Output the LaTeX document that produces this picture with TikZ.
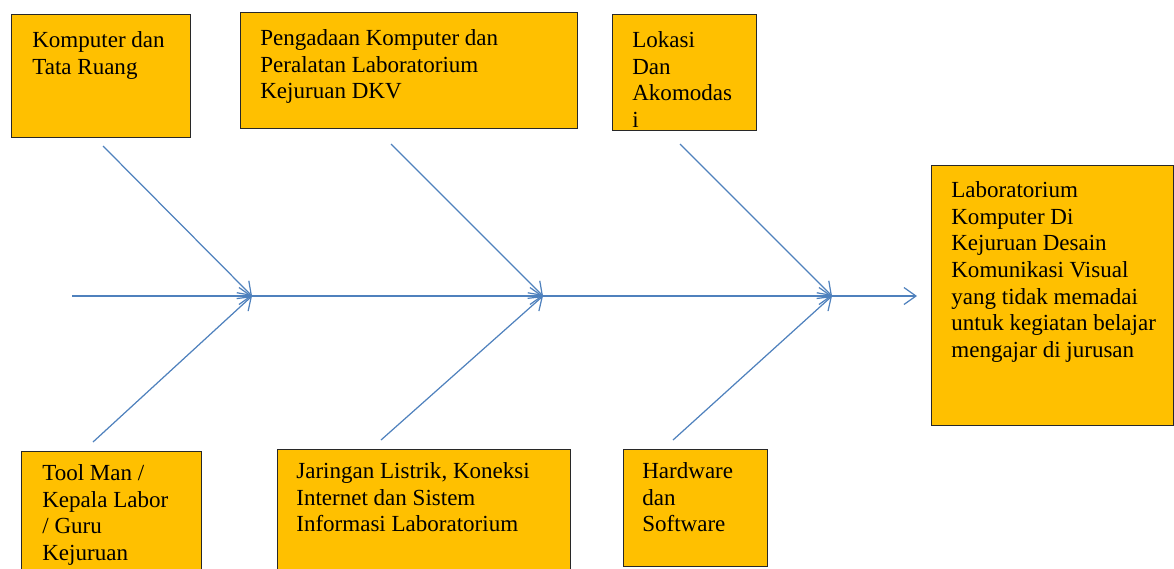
\documentclass[tikz,border=0pt]{standalone}
\usepackage{fontspec}
\setmainfont{Liberation Serif}[Ligatures=TeX]
\newfontfamily\boxfont{Liberation Serif}
\usetikzlibrary{arrows.meta}
\definecolor{amber}{RGB}{255, 192, 0}
\definecolor{boneblue}{RGB}{79, 129, 189}
\definecolor{darkframe}{RGB}{40, 40, 40}

\begin{document}
\begin{tikzpicture}[
        x=1cm, y=1cm,
        box/.style={draw=darkframe, line width=0.8pt, fill=amber,
            anchor=north west, inner sep=0pt},
        boxtext/.style={anchor=north west, inner sep=0pt, align=left,
            font=\boxfont\fontsize{13.1}{15.2}\selectfont},
        bone/.style={draw=boneblue, line width=0.7pt,
            -{Straight Barb[length=2.4mm,width=3.4mm]}}
    ]
    \clip (0,0) rectangle (23.48,-11.36);

        % boxes of the causes
        \node[box, minimum width=3.58cm, minimum height=2.46cm] (komputer) at (0.22,-0.28) {};
        \node[box, minimum width=6.74cm, minimum height=2.32cm] (pengadaan) at (4.80,-0.24) {};
        \node[box, minimum width=2.88cm, minimum height=2.32cm] (lokasi) at (12.24,-0.28) {};
        \node[box, minimum width=3.60cm, minimum height=2.80cm] (toolman) at (0.42,-9.02) {};
        \node[box, minimum width=5.86cm, minimum height=2.80cm] (jaringan) at (5.54,-8.98) {};
        \node[box, minimum width=2.88cm, minimum height=2.34cm] (hardware) at (12.46,-8.98) {};
        \node[box, minimum width=4.84cm, minimum height=5.20cm] (masalah) at (18.62,-3.30) {};

        \node[boxtext] (komputer text) at (0.64,-0.62) {Komputer dan\\Tata Ruang};
        \node[boxtext] (pengadaan text) at (5.20,-0.58) {Pengadaan Komputer dan\\Peralatan Laboratorium\\Kejuruan DKV};
        \node[boxtext] (lokasi text) at (12.64,-0.62) {Lokasi\\Dan\\Akomodas\\i};
        \node[boxtext] (toolman text) at (0.84,-9.28) {Tool Man /\\Kepala Labor\\/ Guru\\Kejuruan};
        \node[boxtext] (jaringan text) at (5.92,-9.24) {Jaringan Listrik, Koneksi\\Internet dan Sistem\\Informasi Laboratorium};
        \node[boxtext] (hardware text) at (12.84,-9.24) {Hardware\\dan\\Software};
        \node[boxtext] (masalah text) at (19.02,-3.62) {Laboratorium\\Komputer Di\\Kejuruan Desain\\Komunikasi Visual\\yang tidak memadai\\untuk kegiatan belajar\\mengajar di jurusan};

        % spine and bones
        \coordinate (tail) at (1.44,-5.92);
        \coordinate (head) at (18.34,-5.92);
        \coordinate (j1) at (5.04,-5.92);
        \coordinate (j2) at (10.86,-5.92);
        \coordinate (j3) at (16.64,-5.92);
        \coordinate (u1) at (2.06,-2.92);
        \coordinate (u2) at (7.82,-2.88);
        \coordinate (u3) at (13.60,-2.88);
        \coordinate (l1) at (1.86,-8.84);
        \coordinate (l2) at (7.62,-8.80);
        \coordinate (l3) at (13.46,-8.80);

        \draw[bone] (tail) -- (j1);
        \draw[bone] (j1) -- (j2);
        \draw[bone] (j2) -- (j3);
        \draw[bone] (j3) -- (head);
        \foreach \a/\b in {u1/j1, u2/j2, u3/j3, l1/j1, l2/j2, l3/j3}
            \draw[bone] (\a) -- (\b);
\end{tikzpicture}
\end{document}
